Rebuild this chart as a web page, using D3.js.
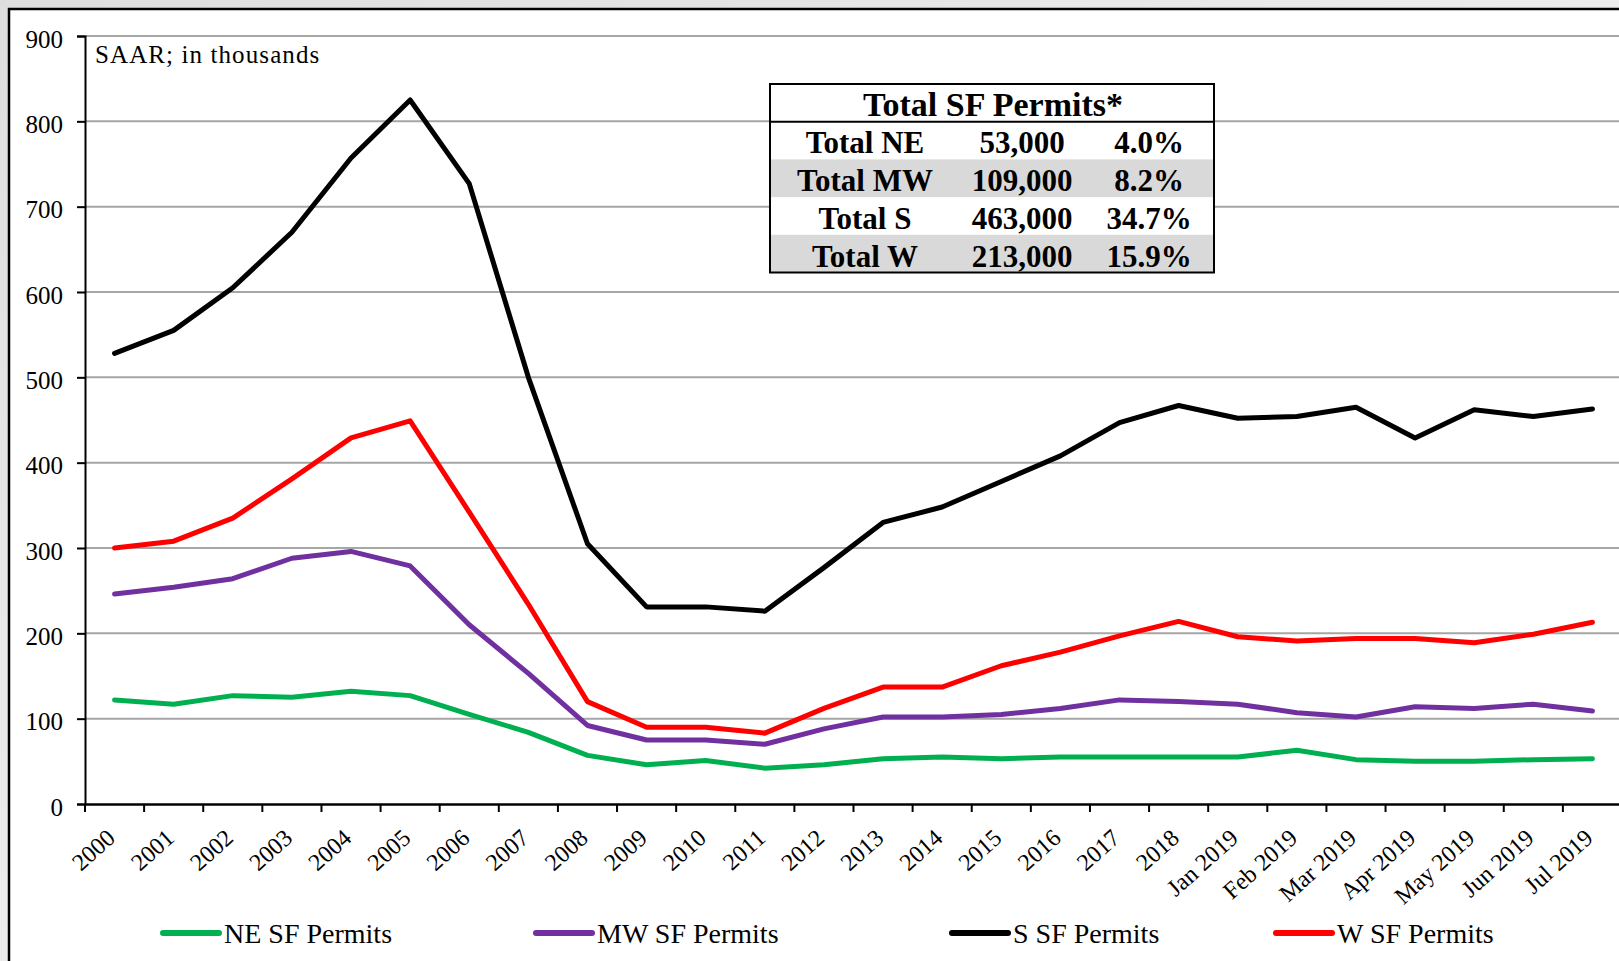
<!DOCTYPE html>
<html><head><meta charset="utf-8">
<script src="https://cdn.jsdelivr.net/npm/d3@7"></script>
<style>body{margin:0;background:#e6e6e6;} svg{display:block;}</style>
</head><body>
<svg id="c" width="1619" height="961"></svg>
<script>
const categories = ["2000","2001","2002","2003","2004","2005","2006","2007","2008","2009","2010","2011","2012","2013","2014","2015","2016","2017","2018","Jan 2019","Feb 2019","Mar 2019","Apr 2019","May 2019","Jun 2019","Jul 2019"];
const neValues = [122,117,127,125,132,127,105,84,57,46,51,42,46,53,55,53,55,55,55,55,63,52,50,50,52,53];
const mwValues = [246,254,264,288,296,279,210,153,92,75,75,70,88,102,102,105,112,122,120,117,107,102,114,112,117,109];
const sValues  = [528,555,605,670,757,825,727,500,305,231,231,226,277,330,348,378,408,447,467,452,454,465,429,462,454,463];
const wValues  = [300,308,335,381,429,449,342,234,120,90,90,83,112,137,137,162,178,197,214,196,191,194,194,189,199,213];
const seriesNames = ["NE SF Permits","MW SF Permits","S SF Permits","W SF Permits"];
const seriesColors = ["#00b050","#7030a0","#000000","#ff0000"];
const yTicks = [0,100,200,300,400,500,600,700,800,900];
const noteText = "SAAR; in thousands";
const tableTitle = "Total SF Permits*";
const tableLabels = ["Total NE","Total MW","Total S","Total W"];
const tableCounts = ["53,000","109,000","463,000","213,000"];
const tableShares = ["4.0%","8.2%","34.7%","15.9%"];

(function(){
const FONT = "'Liberation Serif','Times New Roman',serif";
const svg = d3.select("#c");

const defs = svg.append("defs");
const g0 = defs.append("linearGradient").attr("id","bg").attr("x1","0").attr("y1","0").attr("x2","1").attr("y2","1");
g0.append("stop").attr("offset","0").attr("stop-color","#dedede");
g0.append("stop").attr("offset","0.5").attr("stop-color","#ececec");
g0.append("stop").attr("offset","1").attr("stop-color","#e2e2e2");
svg.append("rect").attr("width",1619).attr("height",961).attr("fill","url(#bg)");
svg.append("rect").attr("x",9).attr("y",9).attr("width",1660).attr("height",1000)
  .attr("fill","#fff").attr("stroke","#000").attr("stroke-width",2.5);

const pL = 85, pR = 1622, pT = 36, pB = 804;
const x = d3.scalePoint().domain(categories).range([pL,pR]).padding(0.5);
const xb = d3.scaleBand().domain(categories).range([pL,pR]);
const y = d3.scaleLinear().domain([0,900]).range([pB,pT]);

svg.append("g").selectAll("line").data(yTicks.filter(d=>d>0)).join("line")
  .attr("x1",pL).attr("x2",pR).attr("y1",d=>y(d)).attr("y2",d=>y(d))
  .attr("stroke","#a6a6a6").attr("stroke-width",2);

const ya = svg.append("g").attr("transform",`translate(${pL},0)`)
  .call(d3.axisLeft(y).tickValues(yTicks).tickSize(8).tickPadding(14));
ya.select(".domain").attr("stroke","#000").attr("stroke-width",2);
ya.selectAll(".tick line").attr("stroke","#000").attr("stroke-width",2);
ya.selectAll(".tick text").attr("font-family",FONT).attr("font-size",25).attr("fill","#000").attr("dy","0.45em");

const xa = svg.append("g").attr("transform",`translate(0,${pB})`)
  .call(d3.axisBottom(xb).tickSize(0).tickFormat(""));
xa.select(".domain").attr("stroke","#000").attr("stroke-width",2.5);
xa.selectAll(".tick").remove();
const bounds = categories.map(c=>xb(c)).concat([pR]);
xa.selectAll("line.tk").data(bounds).join("line").attr("class","tk")
  .attr("x1",d=>d).attr("x2",d=>d).attr("y1",0).attr("y2",8)
  .attr("stroke","#000").attr("stroke-width",2);
xa.selectAll("text.lb").data(categories).join("text").attr("class","lb")
  .attr("transform",d=>`translate(${x(d)+2},${36}) rotate(-42)`)
  .attr("text-anchor","end").attr("font-family",FONT).attr("font-size",24).attr("fill","#000")
  .text(d=>d);

svg.append("text").attr("x",95).attr("y",63).attr("font-family",FONT).attr("font-size",25)
  .attr("letter-spacing","1.1px").text(noteText);

const allSeries = [neValues, mwValues, sValues, wValues];
const line = d3.line().x((d,i)=>x(categories[i])).y(d=>y(d));
svg.append("g").selectAll("path").data(allSeries).join("path")
  .attr("d",d=>line(d)).attr("fill","none")
  .attr("stroke",(d,i)=>seriesColors[i]).attr("stroke-width",5)
  .attr("stroke-linejoin","round").attr("stroke-linecap","round");

const tx0 = 770, tx1 = 1214, tTop = 84, rowH = 37.7;
const tg = svg.append("g");
tg.append("rect").attr("x",tx0).attr("y",tTop).attr("width",tx1-tx0).attr("height",rowH*5).attr("fill","#fff");
tableLabels.forEach((lab,i)=>{
  const ry = tTop + rowH*(i+1);
  if(i%2===1) tg.append("rect").attr("x",tx0).attr("y",ry).attr("width",tx1-tx0).attr("height",rowH).attr("fill","#d9d9d9");
  const cols = [[865,lab],[1022,tableCounts[i]],[1149,tableShares[i]]];
  cols.forEach(([cx,t])=>{
    tg.append("text").attr("x",cx).attr("y",ry+rowH-6).attr("text-anchor","middle")
      .attr("font-family",FONT).attr("font-weight","bold").attr("font-size",31).attr("fill","#000").text(t);
  });
});
tg.append("text").attr("x",993).attr("y",tTop+rowH-6).attr("text-anchor","middle")
  .attr("font-family",FONT).attr("font-weight","bold").attr("font-size",34).attr("fill","#000").text(tableTitle);
tg.append("line").attr("x1",tx0).attr("x2",tx1).attr("y1",tTop+rowH).attr("y2",tTop+rowH).attr("stroke","#000").attr("stroke-width",2);
tg.append("rect").attr("x",tx0).attr("y",tTop).attr("width",tx1-tx0).attr("height",rowH*5)
  .attr("fill","none").attr("stroke","#000").attr("stroke-width",2);

const legX = [163, 536, 952, 1276];
const lg = svg.append("g");
seriesNames.forEach((n,i)=>{
  lg.append("line").attr("x1",legX[i]).attr("x2",legX[i]+56).attr("y1",933).attr("y2",933)
    .attr("stroke",seriesColors[i]).attr("stroke-width",6).attr("stroke-linecap","round");
  lg.append("text").attr("x",legX[i]+61).attr("y",943).attr("font-family",FONT).attr("font-size",28)
    .attr("fill","#000").text(n);
});
})();
</script>
</body></html>
